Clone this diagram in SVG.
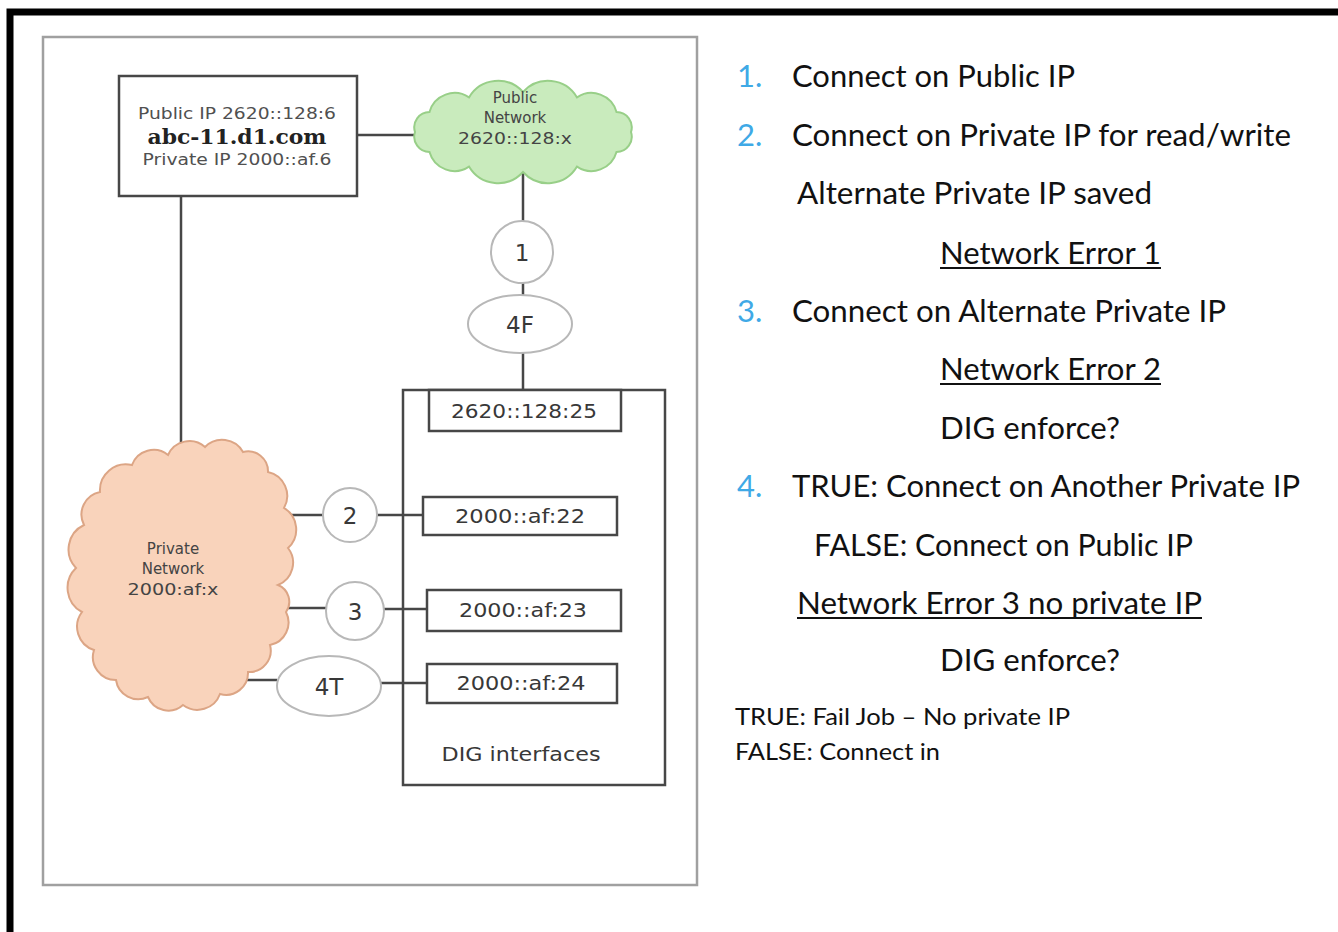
<svg xmlns="http://www.w3.org/2000/svg" width="1338" height="932" viewBox="0 0 1338 932">
  <style>
    .frame { fill: none; stroke: #000; stroke-width: 7; }
    .panel { fill: none; stroke: #a0a0a0; stroke-width: 2.5; }
    .box { fill: #fff; stroke: #474747; stroke-width: 2.5; }
    .container { fill: none; stroke: #474747; stroke-width: 2.5; }
    .bubble { fill: #fff; stroke: #b8b8b8; stroke-width: 2; }
    .link { stroke: #474747; stroke-width: 2.5; fill: none; }
    .pub { fill: #c9ebbd; stroke: #98cf88; stroke-width: 2; }
    .priv { fill: #f9d3bb; stroke: #dca585; stroke-width: 2; }
    .dg { font-family: "DejaVu Sans", Verdana, sans-serif; fill: #383838; text-anchor: middle; }
    .host { font-family: "DejaVu Sans", Verdana, sans-serif; fill: #505050; font-size: 15px; text-anchor: middle; }
    .fqdn { font-family: "DejaVu Serif", "Liberation Serif", serif; font-weight: bold; fill: #222; font-size: 20px; text-anchor: middle; }
    .cl { font-family: "DejaVu Sans", Verdana, sans-serif; fill: #444; font-size: 15px; text-anchor: middle; }
    .num { font-family: Lato, "Liberation Sans", sans-serif; fill: #3fa9e6; font-size: 31px; }
    .step { font-family: Lato, "Liberation Sans", sans-serif; fill: #111; font-size: 31px; }
    .small { font-family: Lato, "Liberation Sans", sans-serif; fill: #111; font-size: 24px; }
    .ul { stroke: #111; stroke-width: 2; }
  </style>

  <!-- outer frame and picture panel -->
  <rect class="frame" x="10" y="12" width="1345" height="935"/>
  <rect class="panel" x="43" y="37" width="654" height="848"/>

  <!-- connectors -->
  <g id="connectors">
    <line class="link" x1="357" y1="135" x2="422" y2="135"/>
    <line class="link" x1="523" y1="168" x2="523" y2="222"/>
    <line class="link" x1="523" y1="282" x2="523" y2="296"/>
    <line class="link" x1="523" y1="352" x2="523" y2="390"/>
    <line class="link" x1="181" y1="196" x2="181" y2="455"/>
    <line class="link" x1="285" y1="515" x2="324" y2="515"/>
    <line class="link" x1="376" y1="515" x2="423" y2="515"/>
    <line class="link" x1="282" y1="608" x2="326" y2="608"/>
    <line class="link" x1="384" y1="609" x2="427" y2="609"/>
    <line class="link" x1="245" y1="680" x2="277" y2="680"/>
    <line class="link" x1="381" y1="683" x2="427" y2="683"/>
  </g>

  <!-- host -->
  <g id="host">
    <rect class="box" x="119" y="76" width="238" height="120"/>
    <text class="host" x="237" y="119" textLength="198" lengthAdjust="spacingAndGlyphs">Public IP 2620::128:6</text>
    <text class="fqdn" x="237" y="144" textLength="179" lengthAdjust="spacingAndGlyphs">abc-11.d1.com</text>
    <text class="host" x="237" y="165" textLength="189" lengthAdjust="spacingAndGlyphs">Private IP 2000::af.6</text>
  </g>

  <!-- public network cloud -->
  <g id="public-network">
    <path class="pub" d="M631,132 A15.3,15.3 0 0 1 616.5,152 A26,26 0 0 1 577,166.6 A33.6,33.6 0 0 1 523,172 A33.6,33.6 0 0 1 469,166.6 A26,26 0 0 1 429.5,152 A15.3,15.3 0 0 1 415,132 A15.3,15.3 0 0 1 429.5,112 A26,26 0 0 1 469,97.4 A33.6,33.6 0 0 1 523,92 A33.6,33.6 0 0 1 577,97.4 A26,26 0 0 1 616.5,112 A15.3,15.3 0 0 1 631,132 Z"/>
    <text class="cl" x="515" y="103">Public</text>
    <text class="cl" x="515" y="123">Network</text>
    <text class="cl" x="515" y="144" textLength="114" lengthAdjust="spacingAndGlyphs">2620::128:x</text>
  </g>

  <!-- private network cloud -->
  <g id="private-network">
    <path class="priv" d="M100,492 A26,26 0 0 1 132,465 A23,23 0 0 1 168,455 A23.5,23.5 0 0 1 205,447 A24,24 0 0 1 243,452 A20,20 0 0 1 268,472 A24.5,24.5 0 0 1 284,508 A25,25 0 0 1 288,548 A24,24 0 0 1 278,585 A18,18 0 0 1 286,612 A23,23 0 0 1 270,645 A21.5,21.5 0 0 1 248,672 A22,22 0 0 1 220,694 A24,24 0 0 1 183,705 A22,22 0 0 1 148,697 A22.5,22.5 0 0 1 116,680 A23,23 0 0 1 94,650 A24.5,24.5 0 0 1 82,612 A27.5,27.5 0 0 1 76,568 A27,27 0 0 1 84,525 A23,23 0 0 1 100,492 Z"/>
    <text class="cl" x="173" y="554">Private</text>
    <text class="cl" x="173" y="574">Network</text>
    <text class="cl" x="173" y="595" textLength="91" lengthAdjust="spacingAndGlyphs">2000:af:x</text>
  </g>

  <!-- step markers -->
  <g id="step-1">
    <circle class="bubble" cx="522" cy="252" r="31"/>
    <text class="dg" x="522" y="261" font-size="23">1</text>
  </g>
  <g id="step-4f">
    <ellipse class="bubble" cx="520" cy="324" rx="52" ry="29"/>
    <text class="dg" x="520" y="333" font-size="23">4F</text>
  </g>
  <g id="step-2">
    <circle class="bubble" cx="350" cy="515" r="27"/>
    <text class="dg" x="350" y="524" font-size="23">2</text>
  </g>
  <g id="step-3">
    <circle class="bubble" cx="355" cy="611" r="29"/>
    <text class="dg" x="355" y="620" font-size="23">3</text>
  </g>
  <g id="step-4t">
    <ellipse class="bubble" cx="329" cy="686" rx="52" ry="30"/>
    <text class="dg" x="329" y="695" font-size="23">4T</text>
  </g>

  <!-- DIG interfaces -->
  <g id="dig-interfaces">
    <rect class="container" x="403" y="390" width="262" height="395"/>
    <text class="dg" x="521" y="761" font-size="19" textLength="159" lengthAdjust="spacingAndGlyphs">DIG  interfaces</text>
  </g>
  <g id="if-2620-128-25">
    <rect class="box" x="429" y="390" width="192" height="41"/>
    <text class="dg" x="524" y="418" font-size="19" textLength="146" lengthAdjust="spacingAndGlyphs">2620::128:25</text>
  </g>
  <g id="if-2000-af-22">
    <rect class="box" x="423" y="497" width="194" height="38"/>
    <text class="dg" x="520" y="523" font-size="19" textLength="130" lengthAdjust="spacingAndGlyphs">2000::af:22</text>
  </g>
  <g id="if-2000-af-23">
    <rect class="box" x="427" y="590" width="194" height="41"/>
    <text class="dg" x="523" y="617" font-size="19" textLength="128" lengthAdjust="spacingAndGlyphs">2000::af:23</text>
  </g>
  <g id="if-2000-af-24">
    <rect class="box" x="427" y="664" width="190" height="39"/>
    <text class="dg" x="521" y="690" font-size="19" textLength="129" lengthAdjust="spacingAndGlyphs">2000::af:24</text>
  </g>

  <!-- connection steps -->
  <g id="steps">
    <text class="num" x="737" y="87">1.</text>
    <text class="step" x="792" y="87" textLength="283" lengthAdjust="spacingAndGlyphs">Connect on Public IP</text>

    <text class="num" x="737" y="146">2.</text>
    <text class="step" x="792" y="146" textLength="499" lengthAdjust="spacingAndGlyphs">Connect on Private IP for read/write</text>
    <text class="step" x="797" y="204" textLength="355" lengthAdjust="spacingAndGlyphs">Alternate Private IP saved</text>
    <text class="step" x="940" y="264" textLength="221" lengthAdjust="spacingAndGlyphs">Network Error 1</text>
    <line class="ul" x1="940" y1="268" x2="1161" y2="268"/>

    <text class="num" x="737" y="322">3.</text>
    <text class="step" x="792" y="322" textLength="434" lengthAdjust="spacingAndGlyphs">Connect on Alternate Private IP</text>
    <text class="step" x="940" y="380" textLength="221" lengthAdjust="spacingAndGlyphs">Network Error 2</text>
    <line class="ul" x1="940" y1="384" x2="1161" y2="384"/>
    <text class="step" x="940" y="439" textLength="180" lengthAdjust="spacingAndGlyphs">DIG enforce?</text>

    <text class="num" x="737" y="497">4.</text>
    <text class="step" x="792" y="497" textLength="508" lengthAdjust="spacingAndGlyphs">TRUE: Connect on Another Private IP</text>
    <text class="step" x="814" y="556" textLength="379" lengthAdjust="spacingAndGlyphs">FALSE: Connect on Public IP</text>
    <text class="step" x="797" y="614" textLength="405" lengthAdjust="spacingAndGlyphs">Network Error 3 no private IP</text>
    <line class="ul" x1="797" y1="618" x2="1202" y2="618"/>
    <text class="step" x="940" y="671" textLength="180" lengthAdjust="spacingAndGlyphs">DIG enforce?</text>

    <text class="small" x="735" y="725" textLength="335" lengthAdjust="spacingAndGlyphs">TRUE: Fail Job – No private IP</text>
    <text class="small" x="735" y="760" textLength="205" lengthAdjust="spacingAndGlyphs">FALSE: Connect in</text>
  </g>
</svg>
